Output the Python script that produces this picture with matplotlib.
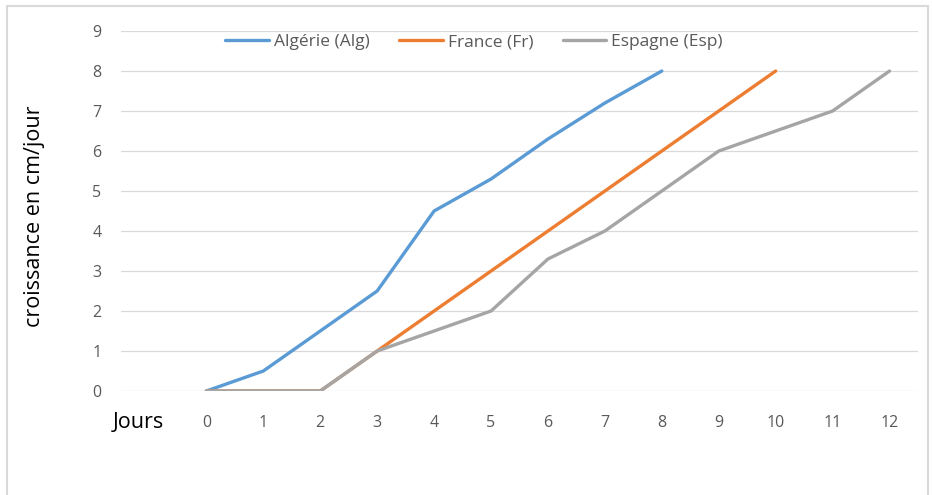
import matplotlib
matplotlib.use("Agg")
import matplotlib.pyplot as plt
from matplotlib.patches import Rectangle

plt.rcParams['font.family'] = ['Open Sans', 'DejaVu Sans']

days = list(range(13))
day_labels = [str(d) for d in days]
algerie = [0, 0.5, 1.5, 2.5, 4.5, 5.3, 6.3, 7.2, 8]
france = [0, 0, 0, 1, 2, 3, 4, 5, 6, 7, 8]
espagne = [0, 0, 0, 1, 1.5, 2, 3.3, 4, 5, 6, 6.5, 7, 8]
y_ticks = list(range(10))

series = [
    ("Algérie (Alg)", algerie, "#5B9BD5"),
    ("France (Fr)", france, "#ED7D31"),
    ("Espagne (Esp)", espagne, "#A5A5A5"),
]

fig = plt.figure(figsize=(9.32, 4.95), dpi=100)
fig.patches.append(Rectangle((7 / 932, -0.05), 921 / 932, 1.05 - 6 / 495,
                             transform=fig.transFigure, fill=False,
                             edgecolor="#D9D9D9", linewidth=1.5))

ax = fig.add_axes([121 / 932, 104 / 495, 797 / 932, 360 / 495])
for name, vals, col in series:
    ax.plot(days[:len(vals)], vals, color=col, linewidth=2.4, label=name,
            solid_capstyle="round", solid_joinstyle="round")

ax.set_xlim(-1.5, 12.5)
ax.set_ylim(0, 9)
ax.set_yticks(y_ticks)
ax.set_xticks(days)
ax.set_xticklabels(day_labels)
ax.grid(axis="y", color="#D9D9D9", linewidth=0.9)
ax.set_axisbelow(True)
for s in ax.spines.values():
    s.set_visible(False)
ax.tick_params(length=0, colors="#595959", labelsize=11.5)
ax.tick_params(axis="y", pad=14)
ax.tick_params(axis="x", pad=17)

ax.text(-1.2, -0.8, "Jours", ha="center", va="center", fontsize=15.5,
        color="black")
fig.text(35 / 932, 1 - 216 / 495, "croissance en cm/jour", rotation=90,
         ha="center", va="center", fontsize=15.5, color="black")

leg = ax.legend(loc="center", bbox_to_anchor=(0.443, 0.969), ncol=3,
                frameon=False, fontsize=12.5, handlelength=2.5,
                handletextpad=0.3, columnspacing=1.7, labelcolor="#595959")

fig.savefig("out.png", dpi=100, facecolor="white")
